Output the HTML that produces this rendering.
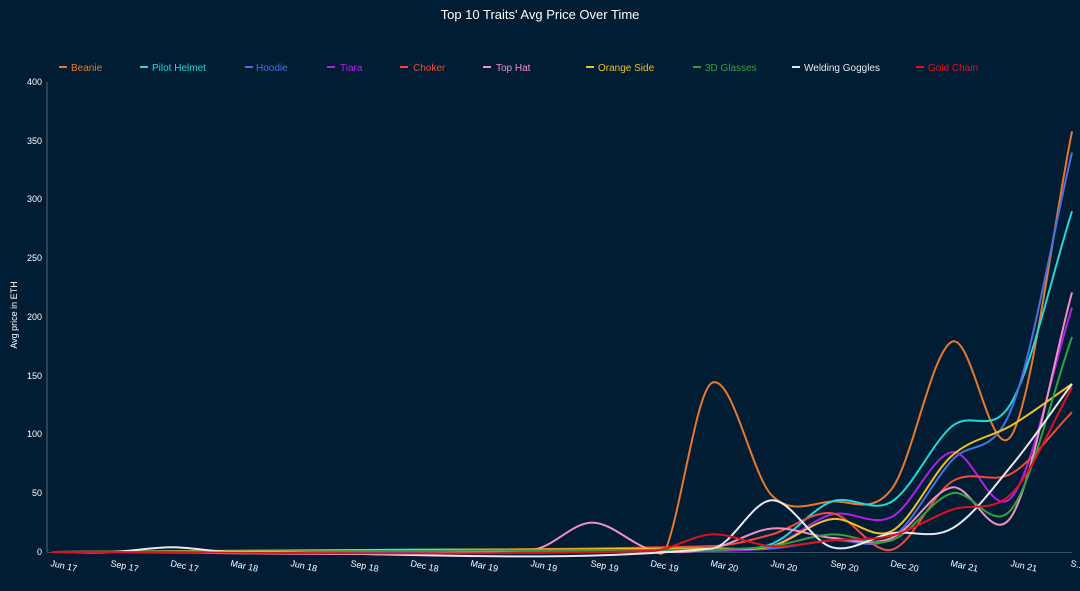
<!DOCTYPE html>
<html><head><meta charset="utf-8"><style>
html,body{margin:0;padding:0;background:#001d33;}
svg{display:block;font-family:"Liberation Sans",sans-serif;}
</style></head><body>
<svg id="s" width="1080" height="591" xmlns="http://www.w3.org/2000/svg">
<rect width="1080" height="591" fill="#001d33"/>
<text x="540" y="19" fill="#ffffff" font-size="13" text-anchor="middle">Top 10 Traits' Avg Price Over Time</text>
<g font-size="10">
<rect x="59" y="66" width="8" height="2" fill="#e8782a"/><text x="71" y="71" fill="#e8782a">Beanie</text>
<rect x="140" y="66" width="8" height="2" fill="#22d8d8"/><text x="152" y="71" fill="#22d8d8">Pilot Helmet</text>
<rect x="245" y="66" width="8" height="2" fill="#4a70e0"/><text x="256" y="71" fill="#4a70e0">Hoodie</text>
<rect x="327" y="66" width="8" height="2" fill="#b020e8"/><text x="340" y="71" fill="#b020e8">Tiara</text>
<rect x="400" y="66" width="8" height="2" fill="#f04a3a"/><text x="413" y="71" fill="#f04a3a">Choker</text>
<rect x="483" y="66" width="8" height="2" fill="#f090c0"/><text x="496" y="71" fill="#f090c0">Top Hat</text>
<rect x="586" y="66" width="8" height="2" fill="#f0c020"/><text x="598" y="71" fill="#f0c020">Orange Side</text>
<rect x="693" y="66" width="8" height="2" fill="#30a040"/><text x="705" y="71" fill="#30a040">3D Glasses</text>
<rect x="792" y="66" width="8" height="2" fill="#e8e8f0"/><text x="804" y="71" fill="#e8e8f0">Welding Goggles</text>
<rect x="916" y="66" width="8" height="2" fill="#e01020"/><text x="928" y="71" fill="#e01020">Gold Chain</text>
</g>
<line x1="47" y1="82" x2="47" y2="552" stroke="#556677" stroke-width="1"/>
<line x1="47" y1="552.5" x2="1072" y2="552.5" stroke="#3a4d60" stroke-width="1"/>
<g font-size="9" fill="#ffffff" text-anchor="end">
<text x="42" y="85">400</text><text x="42" y="144">350</text><text x="42" y="202">300</text>
<text x="42" y="261">250</text><text x="42" y="320">200</text><text x="42" y="379">150</text>
<text x="42" y="437">100</text><text x="42" y="496">50</text><text x="42" y="555">0</text>
</g>
<text transform="translate(17,315) rotate(-90)" font-size="9" fill="#ffffff" text-anchor="middle">Avg price in ETH</text>
<g id="xl" font-size="9" fill="#ffffff"></g>
<g id="lines" fill="none" stroke-width="2"></g>
</svg>
<script>
var labels=["Jun 17","Sep 17","Dec 17","Mar 18","Jun 18","Sep 18","Dec 18","Mar 19","Jun 19","Sep 19","Dec 19","Mar 20","Jun 20","Sep 20","Dec 20","Mar 21","Jun 21","S..."];
var xl=document.getElementById('xl');var ns="http://www.w3.org/2000/svg";
labels.forEach(function(l,i){var x=50+60*i;var t=document.createElementNS(ns,'text');t.setAttribute('transform','translate('+x+',566) rotate(12)');t.textContent=l;xl.appendChild(t);});
function X(q){return 52+60*q;}function Y(v){return 552-v*1.175;}
var S=[
["#e8782a",[[0,0],[9,1],[10,1],[10.25,5],[11,144],[12,48],[13,43],[14,54],[15,179],[16,100],[17,358]]],
["#22d8d8",[[0,0],[6,2],[11,3],[12,7],[13,43],[14,43],[15,107],[16,128],[17,290]]],
["#4a70e0",[[0,0],[11,1],[12,3],[13,10],[14,12],[15,78],[16,123],[17,340]]],
["#b020e8",[[0,0],[11,2],[12,5],[13,32],[14,30],[15,85],[16,47],[17,208]]],
["#f04a3a",[[0,0],[11,5],[12,15],[13,33],[14,2],[15,60],[16,67],[17,119]]],
["#f090c0",[[0,0],[8,2],[9,25],[10,2],[11,3],[12,20],[13,12],[14,12],[15,55],[16,31],[17,221]]],
["#f0c020",[[0,0],[7,2],[11,3],[12,5],[13,28],[14,18],[15,82],[16,108],[17,143]]],
["#30a040",[[0,0],[11,2],[12,5],[13,15],[14,10],[15,50],[16,37],[17,183]]],
["#e8e8f0",[[0,0],[1,0],[2,4],[3,0],[11,3],[12,44],[13,4],[14,16],[15,20],[16,74],[17,143]]],
["#e01020",[[0,0],[10,1],[11,15],[12,5],[13,10],[14,14],[15,36],[16,50],[17,140]]]
];
var g=document.getElementById('lines');
S.forEach(function(s){var p=s[1].map(function(d){return [X(d[0]),Y(d[1])];});
var d="M"+p[0][0]+","+p[0][1];
function sl(i){var a=p[i-1]||p[i],b=p[i+1]||p[i];return (b[1]-a[1])/(b[0]-a[0]);}
for(var i=0;i<p.length-1;i++){var p1=p[i],p2=p[i+1],dx=(p2[0]-p1[0])/3;
var c1y=p1[1]+sl(i)*dx,c2y=p2[1]-sl(i+1)*dx;
d+=" C"+(p1[0]+dx)+","+c1y+" "+(p2[0]-dx)+","+c2y+" "+p2[0]+","+p2[1];}
var e=document.createElementNS(ns,'path');e.setAttribute('d',d);e.setAttribute('stroke',s[0]);g.appendChild(e);});
</script>
</body></html>
